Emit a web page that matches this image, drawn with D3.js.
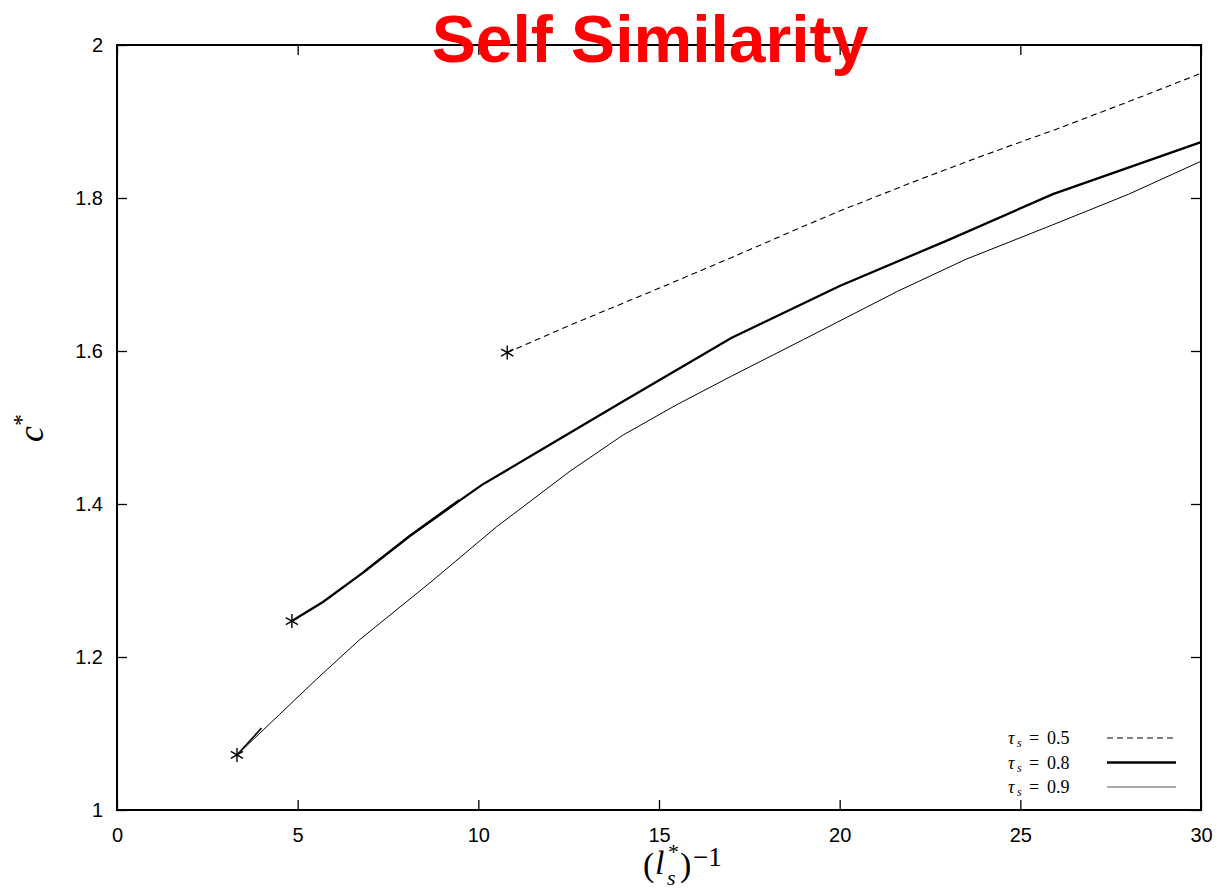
<!DOCTYPE html>
<html>
<head>
<meta charset="utf-8">
<script src="https://cdn.jsdelivr.net/npm/d3@7"></script>
<style>
  body { margin: 0; background: #fff; }
  svg { display: block; }
</style>
</head>
<body>
<svg id="chart" width="1222" height="889"></svg>
<script>
// Self-similar front speed c* versus inverse scale (l_s*)^-1 for three tau_s values
const xTicks = [0, 5, 10, 15, 20, 25, 30];
const yTicks = [1, 1.2, 1.4, 1.6, 1.8, 2];
const yTickLabels = ["1", "1.2", "1.4", "1.6", "1.8", "2"];

// tau_s = 0.5 (dashed)
const tau05X = [10.8, 12.5, 15, 17, 18.9, 20, 22.2, 24, 26, 28, 30];
const tau05Y = [1.598, 1.633, 1.682, 1.722, 1.761, 1.783, 1.824, 1.856, 1.89, 1.926, 1.963];

// tau_s = 0.8 (thick)
const tau08X = [4.84, 5.7, 6.8, 8.1, 9.5, 10.1, 12, 14, 17, 20, 23, 25.9, 30];
const tau08Y = [1.247, 1.272, 1.31, 1.358, 1.405, 1.425, 1.478, 1.534, 1.617, 1.685, 1.745, 1.805, 1.873];
// overlapping branch fragment of tau_s = 0.8
const tau08BranchX = [6.8, 8.1, 9.45];
const tau08BranchY = [1.31, 1.358, 1.404];

// tau_s = 0.9 (thin)
const tau09X = [3.32, 4.5, 5.5, 6.7, 8.66, 10.5, 12.54, 14, 15.5, 17, 19, 21.6, 23.5, 25.9, 28, 30];
const tau09Y = [1.072, 1.125, 1.17, 1.222, 1.297, 1.37, 1.443, 1.49, 1.53, 1.567, 1.615, 1.678, 1.72, 1.765, 1.805, 1.848];
// short spur near the start of tau_s = 0.9
const tau09SpurX = [3.32, 3.9, 4.0];
const tau09SpurY = [1.072, 1.102, 1.107];

// starting points of each branch (asterisk markers)
const startX = [10.8, 4.84, 3.32];
const startY = [1.598, 1.247, 1.072];

const legendLabels = ["0.5", "0.8", "0.9"];

const svg = d3.select("#chart");
const margin = { left: 117, right: 21, top: 45, bottom: 79 };
const W = 1222, H = 889;

const x = d3.scaleLinear().domain([0, 30]).range([margin.left, W - margin.right]);
const y = d3.scaleLinear().domain([1, 2]).range([H - margin.bottom, margin.top]);

const tickFont = "'Liberation Sans', Arial, Helvetica, sans-serif";
const mathFont = "'Liberation Serif', 'DejaVu Serif', serif";

// inward ticks on all four sides
const tickLen = 10;
const g = svg.append("g");

g.append("g").attr("transform", `translate(0,${y(1)})`)
  .call(d3.axisBottom(x).tickValues(xTicks).tickSizeInner(-tickLen).tickSizeOuter(0).tickPadding(18).tickFormat(d3.format("d")))
  .call(s => s.select(".domain").remove())
  .call(s => s.selectAll("text").attr("font-family", tickFont).attr("font-size", 20).attr("fill", "#000"));

g.append("g").attr("transform", `translate(0,${y(2)})`)
  .call(d3.axisTop(x).tickValues(xTicks).tickSizeInner(-tickLen).tickSizeOuter(0).tickFormat(""))
  .call(s => s.select(".domain").remove());

g.append("g").attr("transform", `translate(${x(0)},0)`)
  .call(d3.axisLeft(y).tickValues(yTicks).tickSizeInner(-tickLen).tickSizeOuter(0).tickPadding(14)
    .tickFormat((d, i) => yTickLabels[i]))
  .call(s => s.select(".domain").remove())
  .call(s => s.selectAll("text").attr("font-family", tickFont).attr("font-size", 20).attr("fill", "#000"));

g.append("g").attr("transform", `translate(${x(30)},0)`)
  .call(d3.axisRight(y).tickValues(yTicks).tickSizeInner(-tickLen).tickSizeOuter(0).tickFormat(""))
  .call(s => s.select(".domain").remove());

g.selectAll(".tick line").attr("stroke", "#000").attr("stroke-width", 1.3);

// plot frame
svg.append("rect")
  .attr("x", x(0)).attr("y", y(2))
  .attr("width", x(30) - x(0)).attr("height", y(1) - y(2))
  .attr("fill", "none").attr("stroke", "#000").attr("stroke-width", 2);

const line = d3.line().x(d => x(d[0])).y(d => y(d[1]));
const zip = (a, b) => a.map((v, i) => [v, b[i]]);

svg.append("path").datum(zip(tau05X, tau05Y)).attr("d", line)
  .attr("fill", "none").attr("stroke", "#000").attr("stroke-width", 1.1).attr("stroke-dasharray", "6,4");

svg.append("path").datum(zip(tau08X, tau08Y)).attr("d", line)
  .attr("fill", "none").attr("stroke", "#000").attr("stroke-width", 2.3);
svg.append("path").datum(zip(tau08BranchX, tau08BranchY)).attr("d", line)
  .attr("fill", "none").attr("stroke", "#000").attr("stroke-width", 2.3)
  .attr("transform", "translate(0.8,-0.8)");

svg.append("path").datum(zip(tau09X, tau09Y)).attr("d", line)
  .attr("fill", "none").attr("stroke", "#000").attr("stroke-width", 1);
svg.append("path").datum(zip(tau09SpurX, tau09SpurY)).attr("d", line)
  .attr("fill", "none").attr("stroke", "#000").attr("stroke-width", 1.6);

// asterisk markers
const star = svg.append("g").selectAll("g").data(zip(startX, startY)).join("g")
  .attr("transform", d => `translate(${x(d[0])},${y(d[1])})`);
const r = 7;
[[0, -r, 0, r], [-r * 0.87, -r * 0.5, r * 0.87, r * 0.5], [-r * 0.87, r * 0.5, r * 0.87, -r * 0.5]].forEach(c => {
  star.append("line").attr("x1", c[0]).attr("y1", c[1]).attr("x2", c[2]).attr("y2", c[3])
    .attr("stroke", "#000").attr("stroke-width", 1.4);
});

// legend
const legend = svg.append("g").attr("font-family", mathFont).attr("fill", "#000");
const legendStyles = [
  { w: 1.1, dash: "6,4", color: "#000" },
  { w: 2.3, dash: null, color: "#000" },
  { w: 1.2, dash: null, color: "#555" }
];
legendLabels.forEach((lab, i) => {
  const ly = 738 + i * 24.5;
  legend.append("text").attr("x", 1008).attr("y", ly + 6).attr("font-size", 18)
    .attr("font-style", "italic").text("τ");
  legend.append("text").attr("x", 1017).attr("y", ly + 9).attr("font-size", 12)
    .attr("font-style", "italic").text("s");
  legend.append("text").attr("x", 1029).attr("y", ly + 6).attr("font-size", 18).text("=");
  legend.append("text").attr("x", 1047).attr("y", ly + 6).attr("font-size", 18).text(lab);
  legend.append("line").attr("x1", 1107).attr("x2", 1176).attr("y1", ly).attr("y2", ly)
    .attr("stroke", legendStyles[i].color).attr("stroke-width", legendStyles[i].w)
    .attr("stroke-dasharray", legendStyles[i].dash);
});

// x-axis title: (l_s^*)^{-1}
const xl = svg.append("g").attr("font-family", mathFont).attr("fill", "#000");
xl.append("text").attr("x", 643).attr("y", 876).attr("font-size", 34).text("(");
xl.append("text").attr("x", 655).attr("y", 874).attr("font-size", 34).attr("font-style", "italic").text("l");
xl.append("text").attr("x", 668).attr("y", 859).attr("font-size", 22).text("*");
xl.append("text").attr("x", 667).attr("y", 885).attr("font-size", 22).attr("font-style", "italic").text("s");
xl.append("text").attr("x", 680).attr("y", 876).attr("font-size", 34).text(")");
xl.append("text").attr("x", 693).attr("y", 866).attr("font-size", 27).text("−1");

// y-axis title: c^*
const yl = svg.append("text").attr("transform", "translate(43,442) rotate(-90)")
  .attr("font-family", mathFont).attr("font-size", 36).attr("fill", "#000");
yl.append("tspan").attr("font-style", "italic").text("c");
yl.append("tspan").attr("font-size", 24).attr("dy", -14).text("*");

// title
svg.append("text").attr("x", 650).attr("y", 62).attr("text-anchor", "middle")
  .attr("font-family", tickFont).attr("font-weight", "bold").attr("font-size", 66)
  .attr("fill", "#ff0000").text("Self Similarity");
</script>
</body>
</html>
